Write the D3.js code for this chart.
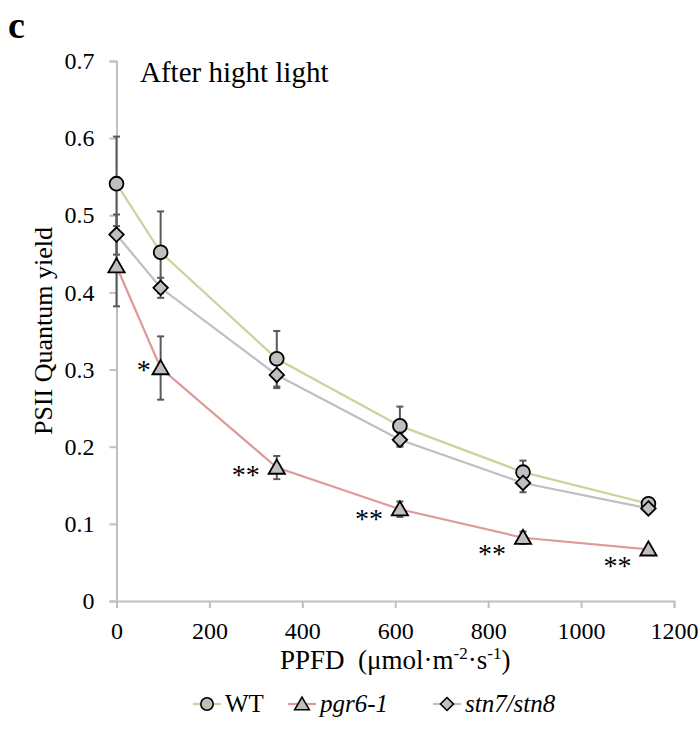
<!DOCTYPE html>
<html>
<head>
<meta charset="utf-8">
<script src="https://cdn.jsdelivr.net/npm/d3@7"></script>
<style>
  body { margin: 0; background: #fff; }
  svg, svg text { font-family: "Liberation Serif", "DejaVu Serif", serif !important; fill: #000; }
</style>
</head>
<body>
<div id="chart"></div>
<script>
// PPFD levels and PSII quantum yield (mean, error) per line
const ppfd = [0, 95, 345, 610, 875, 1145];
const wt = [0.541, 0.452, 0.314, 0.227, 0.167, 0.126];
const wtErr = [0.061, 0.053, 0.036, 0.025, 0.015, 0.006];
const pgr = [0.434, 0.302, 0.173, 0.119, 0.082, 0.067];
const pgrErr = [0.052, 0.041, 0.015, 0.010, 0.008, 0.004];
const stn = [0.475, 0.406, 0.293, 0.209, 0.153, 0.120];
const stnErr = [0.026, 0.013, 0.017, 0.009, 0.012, 0.005];
const signif = ["", "*", "**", "**", "**", "**"];
const xTicks = [0, 200, 400, 600, 800, 1000, 1200];
const yTicks = [0, 0.1, 0.2, 0.3, 0.4, 0.5, 0.6, 0.7];

const width = 699, height = 731;
const margin = { top: 61, right: 25, bottom: 130, left: 116.5 };
const serif = "'Liberation Serif', 'DejaVu Serif', serif";

const svg = d3.select("#chart").append("svg")
  .attr("width", width)
  .attr("height", height)
  .attr("font-family", serif);

const x = d3.scaleLinear().domain([0, 1200]).range([margin.left, width - margin.right]);
const y = d3.scaleLinear().domain([0, 0.7]).range([height - margin.bottom, margin.top]);

const axisColor = "#c0c0c0";

// x axis
const xAxis = svg.append("g")
  .attr("transform", `translate(0,${y(0)})`)
  .call(d3.axisBottom(x).tickValues(xTicks).tickSize(7).tickPadding(14).tickFormat(d3.format("d")));
// y axis
const yAxis = svg.append("g")
  .attr("transform", `translate(${x(0)},0)`)
  .call(d3.axisLeft(y).tickValues(yTicks).tickSize(7).tickPadding(15)
    .tickFormat(d => d === 0 ? "0" : d3.format(".1f")(d)));

[xAxis, yAxis].forEach(g => {
  g.attr("font-family", serif);
  g.select(".domain").attr("stroke", axisColor).attr("stroke-width", 2);
  g.selectAll(".tick line").attr("stroke", axisColor).attr("stroke-width", 2);
  g.selectAll(".tick text").attr("font-size", 24).attr("fill", "#000");
});
xAxis.selectAll(".tick text").attr("dy", "0.71em");

// series definitions
const diamond = {
  draw(ctx, size) {
    const r = Math.sqrt(size / 2);
    ctx.moveTo(0, -r); ctx.lineTo(r, 0); ctx.lineTo(0, r); ctx.lineTo(-r, 0); ctx.closePath();
  }
};
const series = [
  { name: "WT", vals: wt, err: wtErr, color: "#c3d69b", shape: d3.symbolCircle, size: 150, dy: 0, italic: false },
  { name: "pgr6-1", vals: pgr, err: pgrErr, color: "#df9a98", shape: d3.symbolTriangle, size: 115, dy: 1.5, italic: true },
  { name: "stn7/stn8", vals: stn, err: stnErr, color: "#bfbfbf", shape: diamond, size: 105, dy: 0, italic: true }
];

const line = d3.line().x(d => x(d[0])).y(d => y(d[1]));

// lines
series.forEach(s => {
  svg.append("path")
    .datum(ppfd.map((p, i) => [p, s.vals[i]]))
    .attr("fill", "none")
    .attr("stroke", s.color)
    .attr("stroke-width", 2.2)
    .attr("d", line);
});

// error bars
series.forEach(s => {
  const g = svg.append("g").attr("stroke", "#595959").attr("stroke-width", 2);
  ppfd.forEach((p, i) => {
    const cx = x(p), y1 = y(s.vals[i] + s.err[i]), y2 = y(s.vals[i] - s.err[i]);
    g.append("line").attr("x1", cx).attr("x2", cx).attr("y1", y1).attr("y2", y2);
    g.append("line").attr("x1", cx - 3.5).attr("x2", cx + 3.5).attr("y1", y1).attr("y2", y1);
    g.append("line").attr("x1", cx - 3.5).attr("x2", cx + 3.5).attr("y1", y2).attr("y2", y2);
  });
});

// markers
series.forEach(s => {
  svg.append("g").selectAll("path")
    .data(ppfd.map((p, i) => [p, s.vals[i]]))
    .join("path")
    .attr("d", d3.symbol().type(s.shape).size(s.size))
    .attr("transform", d => `translate(${x(d[0])},${y(d[1]) + s.dy})`)
    .attr("fill", "#bfbfbf")
    .attr("stroke", "#000")
    .attr("stroke-width", 1.8);
});

// significance marks next to pgr6-1
const starShift = [0, -3, 2, 5, 11, 12];
svg.append("g").selectAll("text")
  .data(ppfd.map((p, i) => ({ p, v: pgr[i], s: signif[i], i })).filter(d => d.s))
  .join("text")
  .attr("x", d => x(d.p) - (d.s.length === 1 ? 17 : 31))
  .attr("y", d => y(d.v) + 14 + starShift[d.i])
  .attr("text-anchor", "middle")
  .attr("font-size", 28)
  .text(d => d.s);

// panel letter and title
svg.append("text").attr("x", 8).attr("y", 38)
  .attr("font-size", 38).attr("font-weight", "bold").text("c");
svg.append("text").attr("x", 140).attr("y", 82)
  .attr("font-size", 29).text("After hight light");

// axis titles
svg.append("text")
  .attr("transform", `translate(52,${(y(0) + y(0.7)) / 2}) rotate(-90)`)
  .attr("text-anchor", "middle")
  .attr("font-size", 26)
  .text("PSII Quantum yield");

const xt = svg.append("text")
  .attr("x", (x(0) + x(1200)) / 2)
  .attr("y", 669)
  .attr("text-anchor", "middle")
  .attr("font-size", 27)
  .attr("xml:space", "preserve");
xt.append("tspan").text("PPFD  (μmol·m");
xt.append("tspan").attr("dy", -10).attr("font-size", 17).text("-2");
xt.append("tspan").attr("dy", 10).text("·s");
xt.append("tspan").attr("dy", -10).attr("font-size", 17).text("-1");
xt.append("tspan").attr("dy", 10).text(")");

// legend
const legendX = [193, 288, 433];
const leg = svg.append("g");
series.forEach((s, i) => {
  const lx = legendX[i], ly = 704;
  const g = leg.append("g").attr("transform", `translate(${lx},${ly})`);
  g.append("line").attr("x1", 0).attr("x2", 28).attr("y1", 0).attr("y2", 0)
    .attr("stroke", s.color).attr("stroke-width", 2.2);
  g.append("path")
    .attr("d", d3.symbol().type(s.shape).size(s.size * 0.8))
    .attr("transform", `translate(14,${s.dy})`)
    .attr("fill", "#bfbfbf").attr("stroke", "#000").attr("stroke-width", 1.6);
  g.append("text").attr("x", 32).attr("y", 8)
    .attr("font-size", 25)
    .attr("font-style", s.italic ? "italic" : "normal")
    .text(s.name);
});
</script>
</body>
</html>
